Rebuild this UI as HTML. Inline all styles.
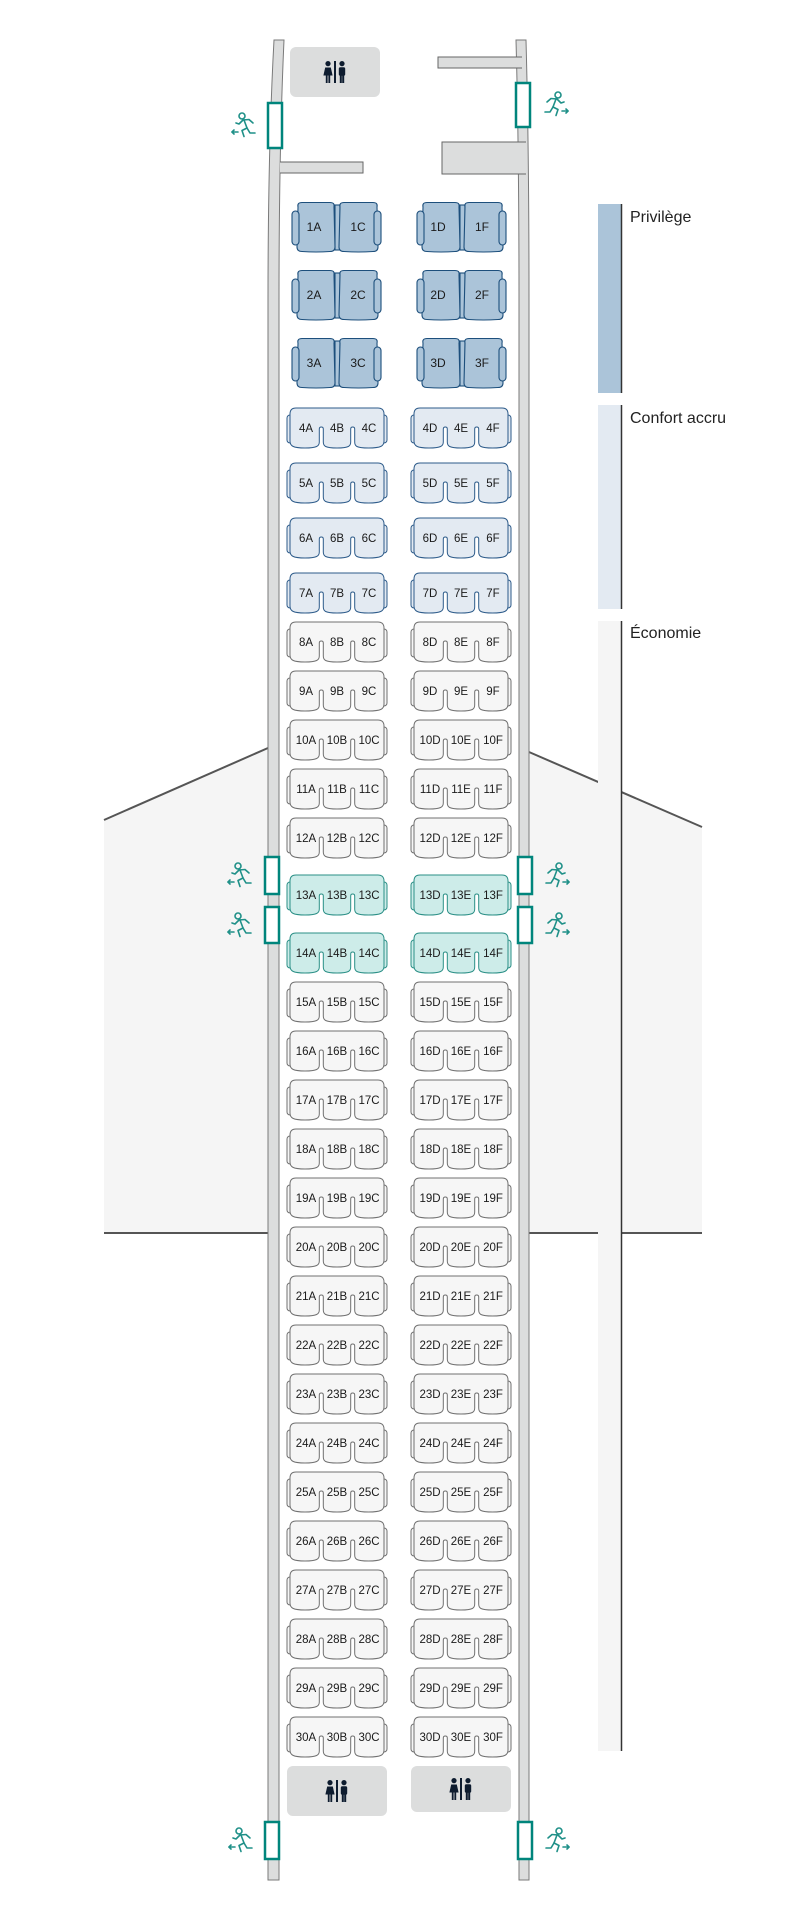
<!DOCTYPE html>
<html><head><meta charset="utf-8"><style>
html,body{margin:0;padding:0;background:#fff;}
svg{display:block;}
.t{font-family:"Liberation Sans",sans-serif;font-size:11.5px;fill:#1a1a1a;text-anchor:middle;}
.tb{font-family:"Liberation Sans",sans-serif;font-size:12px;fill:#1a1a1a;text-anchor:middle;}
.lg{font-family:"Liberation Sans",sans-serif;font-size:16px;fill:#222;}
</style></head><body>
<svg width="800" height="1920" viewBox="0 0 800 1920" xmlns="http://www.w3.org/2000/svg">
<defs>
<g id="b2">
<rect x="43" y="3" width="5" height="45"/>
<path d="M6,5 Q5,0.5 10,0.5 L38,0.5 Q43,0.5 42,5 L43,45 Q43,49.5 38,49.5 Q24,50.5 10,49.5 Q5,49.5 5,45 Z"/>
<path d="M48,5 Q47,0.5 52,0.5 L81,0.5 Q86,0.5 85,5 L86,45 Q86,49.5 81,49.5 Q66.5,50.5 52,49.5 Q47,49.5 47,45 Z"/>
<rect x="0" y="9" width="7" height="34" rx="3.5"/>
<rect x="82" y="9" width="7" height="34" rx="3.5"/>
</g>
<g id="e3">
<rect x="0" y="7" width="6" height="28" rx="3"/>
<rect x="94" y="7" width="6" height="28" rx="3"/>
<path d="M3,6 Q3,0 9,0 L91,0 Q97,0 97,6 L97,33 C97,38 94,40 81.5,40 C69,40 67.7,38 67.7,34 L67.7,21 Q67.7,19 65.7,19 Q63.7,19 63.7,21 L63.7,34 C63.7,38 62,40 50,40 C38,40 36.3,38 36.3,34 L36.3,21 Q36.3,19 34.3,19 Q32.3,19 32.3,21 L32.3,34 C32.3,38 30,40 18,40 C6,40 3,38 3,33 Z"/>
</g>
<g id="exR" fill="none" stroke="#1f9088" stroke-width="1.6" stroke-linecap="round" stroke-linejoin="round">
<circle cx="16" cy="4" r="3"/>
<polyline points="14,8 11,16"/>
<polyline points="5,11 9,7.5 15,8 19,12 22,11"/>
<polyline points="11,16 16,18.5 14,24.5"/>
<polyline points="11,16 8,21 3,21"/>
<line x1="20" y1="20" x2="26" y2="20"/>
<polyline points="24,18 26,20 24,22"/>
</g>
<g id="lav" fill="#0e1c2f">
<circle cx="5" cy="2.6" r="2.6"/>
<path d="M2.2,6.5 L7.8,6.5 L9.6,14.5 L0.4,14.5 Z"/>
<rect x="2.8" y="14" width="1.8" height="8"/>
<rect x="5.4" y="14" width="1.8" height="8"/>
<rect x="11" y="0" width="2" height="22"/>
<circle cx="19" cy="2.6" r="2.6"/>
<rect x="15.8" y="6.2" width="6.4" height="8.5" rx="1.6"/>
<rect x="16.8" y="13" width="2" height="9"/>
<rect x="19.2" y="13" width="2" height="9"/>
</g>
</defs>

<!-- wings -->
<polygon points="268,748 104,820 104,1233 268,1233" fill="#f5f5f5"/>
<line x1="268" y1="748" x2="104" y2="820" stroke="#555" stroke-width="2"/>
<line x1="104" y1="1233" x2="268" y2="1233" stroke="#555" stroke-width="2"/>
<polygon points="529,752 702,827 702,1233 529,1233" fill="#f5f5f5"/>
<line x1="529" y1="752" x2="702" y2="827" stroke="#555" stroke-width="2"/>
<line x1="529" y1="1233" x2="702" y2="1233" stroke="#555" stroke-width="2"/>

<!-- legend -->
<rect x="598" y="204" width="24" height="189" fill="#abc4d9"/>
<line x1="621.5" y1="204" x2="621.5" y2="393" stroke="#333" stroke-width="1.5"/>
<rect x="598" y="405" width="24" height="204" fill="#e3eaf2"/>
<line x1="621.5" y1="405" x2="621.5" y2="609" stroke="#333" stroke-width="1.5"/>
<rect x="598" y="621" width="24" height="1130" fill="#f5f5f5"/>
<line x1="621.5" y1="621" x2="621.5" y2="1751" stroke="#333" stroke-width="1.5"/>
<text class="lg" x="630" y="222">Privilège</text>
<text class="lg" x="630" y="423">Confort accru</text>
<text class="lg" x="630" y="638">Économie</text>

<!-- walls -->
<path d="M274,40 L284,40 Q279,150 279,300 L279,1880 L268,1880 L268,300 Q268,150 274,40 Z" fill="#dcdddd" stroke="#7a7a7a" stroke-width="1"/>
<path d="M516,40 L526,40 Q529,150 529,300 L529,1880 L519,1880 L519,300 Q519,150 516,40 Z" fill="#dcdddd" stroke="#7a7a7a" stroke-width="1"/>

<!-- front galley/lav -->
<rect x="290" y="47" width="90" height="50" rx="6" fill="#dcdddd"/>
<use href="#lav" x="323" y="61"/>
<path d="M280,162 L363,162 L363,173 L280,173" fill="#dcdddd" stroke="#666" stroke-width="1"/>
<path d="M522,57 L438,57 L438,68 L522,68" fill="#dcdddd" stroke="#666" stroke-width="1"/>
<path d="M526,142 L442,142 L442,174 L526,174" fill="#dcdddd" stroke="#666" stroke-width="1"/>

<!-- rear lavs -->
<rect x="287" y="1766" width="100" height="50" rx="6" fill="#dcdddd"/>
<use href="#lav" x="325" y="1780"/>
<rect x="411" y="1766" width="100" height="46" rx="6" fill="#dcdddd"/>
<use href="#lav" x="449" y="1778"/>

<!-- doors -->
<g fill="#fff" stroke="#00857c" stroke-width="2.5">
<rect x="268" y="103" width="14" height="45"/>
<rect x="516" y="83" width="14" height="44"/>
<rect x="265" y="857" width="14" height="37"/>
<rect x="265" y="907" width="14" height="36"/>
<rect x="518" y="857" width="14" height="37"/>
<rect x="518" y="907" width="14" height="36"/>
<rect x="265" y="1822" width="14" height="37"/>
<rect x="518" y="1822" width="14" height="37"/>
</g>

<!-- exit icons -->
<use href="#exR" transform="translate(258,112) scale(-1,1)"/>
<use href="#exR" x="542" y="91"/>
<use href="#exR" transform="translate(254,862) scale(-1,1)"/>
<use href="#exR" transform="translate(254,912) scale(-1,1)"/>
<use href="#exR" x="543" y="862"/>
<use href="#exR" x="543" y="912"/>
<use href="#exR" transform="translate(255,1827) scale(-1,1)"/>
<use href="#exR" x="543" y="1827"/>

<!-- business seats -->
<g fill="#abc4d9" stroke="#1d4f7c" stroke-width="1.1">
<use href="#b2" x="292" y="202"/><use href="#b2" x="417" y="202"/>
<use href="#b2" x="292" y="270"/><use href="#b2" x="417" y="270"/>
<use href="#b2" x="292" y="338"/><use href="#b2" x="417" y="338"/>
</g>
<text class="tb" y="231"><tspan x="314">1A</tspan><tspan x="358">1C</tspan><tspan x="438">1D</tspan><tspan x="482">1F</tspan></text>
<text class="tb" y="299"><tspan x="314">2A</tspan><tspan x="358">2C</tspan><tspan x="438">2D</tspan><tspan x="482">2F</tspan></text>
<text class="tb" y="367"><tspan x="314">3A</tspan><tspan x="358">3C</tspan><tspan x="438">3D</tspan><tspan x="482">3F</tspan></text>

<!-- premium -->
<g fill="#e3eaf2" stroke="#2d5b8a" stroke-width="1">
<use href="#e3" x="287" y="408"/><use href="#e3" x="411" y="408"/>
<use href="#e3" x="287" y="463"/><use href="#e3" x="411" y="463"/>
<use href="#e3" x="287" y="518"/><use href="#e3" x="411" y="518"/>
<use href="#e3" x="287" y="573"/><use href="#e3" x="411" y="573"/>
</g>

<!-- economy -->
<g fill="#f6f6f6" stroke="#707070" stroke-width="1">
<use href="#e3" x="287" y="622"/><use href="#e3" x="411" y="622"/>
<use href="#e3" x="287" y="671"/><use href="#e3" x="411" y="671"/>
<use href="#e3" x="287" y="720"/><use href="#e3" x="411" y="720"/>
<use href="#e3" x="287" y="769"/><use href="#e3" x="411" y="769"/>
<use href="#e3" x="287" y="818"/><use href="#e3" x="411" y="818"/>
<use href="#e3" x="287" y="982"/><use href="#e3" x="411" y="982"/>
<use href="#e3" x="287" y="1031"/><use href="#e3" x="411" y="1031"/>
<use href="#e3" x="287" y="1080"/><use href="#e3" x="411" y="1080"/>
<use href="#e3" x="287" y="1129"/><use href="#e3" x="411" y="1129"/>
<use href="#e3" x="287" y="1178"/><use href="#e3" x="411" y="1178"/>
<use href="#e3" x="287" y="1227"/><use href="#e3" x="411" y="1227"/>
<use href="#e3" x="287" y="1276"/><use href="#e3" x="411" y="1276"/>
<use href="#e3" x="287" y="1325"/><use href="#e3" x="411" y="1325"/>
<use href="#e3" x="287" y="1374"/><use href="#e3" x="411" y="1374"/>
<use href="#e3" x="287" y="1423"/><use href="#e3" x="411" y="1423"/>
<use href="#e3" x="287" y="1472"/><use href="#e3" x="411" y="1472"/>
<use href="#e3" x="287" y="1521"/><use href="#e3" x="411" y="1521"/>
<use href="#e3" x="287" y="1570"/><use href="#e3" x="411" y="1570"/>
<use href="#e3" x="287" y="1619"/><use href="#e3" x="411" y="1619"/>
<use href="#e3" x="287" y="1668"/><use href="#e3" x="411" y="1668"/>
<use href="#e3" x="287" y="1717"/><use href="#e3" x="411" y="1717"/>
</g>
<!-- exit rows -->
<g fill="#cdece9" stroke="#2a8f86" stroke-width="1">
<use href="#e3" x="287" y="875"/><use href="#e3" x="411" y="875"/>
<use href="#e3" x="287" y="933"/><use href="#e3" x="411" y="933"/>
</g>

<g class="t">
<text class="t" y="432"><tspan x="306">4A</tspan><tspan x="337">4B</tspan><tspan x="369">4C</tspan><tspan x="430">4D</tspan><tspan x="461">4E</tspan><tspan x="493">4F</tspan></text>
<text class="t" y="487"><tspan x="306">5A</tspan><tspan x="337">5B</tspan><tspan x="369">5C</tspan><tspan x="430">5D</tspan><tspan x="461">5E</tspan><tspan x="493">5F</tspan></text>
<text class="t" y="542"><tspan x="306">6A</tspan><tspan x="337">6B</tspan><tspan x="369">6C</tspan><tspan x="430">6D</tspan><tspan x="461">6E</tspan><tspan x="493">6F</tspan></text>
<text class="t" y="597"><tspan x="306">7A</tspan><tspan x="337">7B</tspan><tspan x="369">7C</tspan><tspan x="430">7D</tspan><tspan x="461">7E</tspan><tspan x="493">7F</tspan></text>
<text class="t" y="646"><tspan x="306">8A</tspan><tspan x="337">8B</tspan><tspan x="369">8C</tspan><tspan x="430">8D</tspan><tspan x="461">8E</tspan><tspan x="493">8F</tspan></text>
<text class="t" y="695"><tspan x="306">9A</tspan><tspan x="337">9B</tspan><tspan x="369">9C</tspan><tspan x="430">9D</tspan><tspan x="461">9E</tspan><tspan x="493">9F</tspan></text>
<text class="t" y="744"><tspan x="306">10A</tspan><tspan x="337">10B</tspan><tspan x="369">10C</tspan><tspan x="430">10D</tspan><tspan x="461">10E</tspan><tspan x="493">10F</tspan></text>
<text class="t" y="793"><tspan x="306">11A</tspan><tspan x="337">11B</tspan><tspan x="369">11C</tspan><tspan x="430">11D</tspan><tspan x="461">11E</tspan><tspan x="493">11F</tspan></text>
<text class="t" y="842"><tspan x="306">12A</tspan><tspan x="337">12B</tspan><tspan x="369">12C</tspan><tspan x="430">12D</tspan><tspan x="461">12E</tspan><tspan x="493">12F</tspan></text>
<text class="t" y="899"><tspan x="306">13A</tspan><tspan x="337">13B</tspan><tspan x="369">13C</tspan><tspan x="430">13D</tspan><tspan x="461">13E</tspan><tspan x="493">13F</tspan></text>
<text class="t" y="957"><tspan x="306">14A</tspan><tspan x="337">14B</tspan><tspan x="369">14C</tspan><tspan x="430">14D</tspan><tspan x="461">14E</tspan><tspan x="493">14F</tspan></text>
<text class="t" y="1006"><tspan x="306">15A</tspan><tspan x="337">15B</tspan><tspan x="369">15C</tspan><tspan x="430">15D</tspan><tspan x="461">15E</tspan><tspan x="493">15F</tspan></text>
<text class="t" y="1055"><tspan x="306">16A</tspan><tspan x="337">16B</tspan><tspan x="369">16C</tspan><tspan x="430">16D</tspan><tspan x="461">16E</tspan><tspan x="493">16F</tspan></text>
<text class="t" y="1104"><tspan x="306">17A</tspan><tspan x="337">17B</tspan><tspan x="369">17C</tspan><tspan x="430">17D</tspan><tspan x="461">17E</tspan><tspan x="493">17F</tspan></text>
<text class="t" y="1153"><tspan x="306">18A</tspan><tspan x="337">18B</tspan><tspan x="369">18C</tspan><tspan x="430">18D</tspan><tspan x="461">18E</tspan><tspan x="493">18F</tspan></text>
<text class="t" y="1202"><tspan x="306">19A</tspan><tspan x="337">19B</tspan><tspan x="369">19C</tspan><tspan x="430">19D</tspan><tspan x="461">19E</tspan><tspan x="493">19F</tspan></text>
<text class="t" y="1251"><tspan x="306">20A</tspan><tspan x="337">20B</tspan><tspan x="369">20C</tspan><tspan x="430">20D</tspan><tspan x="461">20E</tspan><tspan x="493">20F</tspan></text>
<text class="t" y="1300"><tspan x="306">21A</tspan><tspan x="337">21B</tspan><tspan x="369">21C</tspan><tspan x="430">21D</tspan><tspan x="461">21E</tspan><tspan x="493">21F</tspan></text>
<text class="t" y="1349"><tspan x="306">22A</tspan><tspan x="337">22B</tspan><tspan x="369">22C</tspan><tspan x="430">22D</tspan><tspan x="461">22E</tspan><tspan x="493">22F</tspan></text>
<text class="t" y="1398"><tspan x="306">23A</tspan><tspan x="337">23B</tspan><tspan x="369">23C</tspan><tspan x="430">23D</tspan><tspan x="461">23E</tspan><tspan x="493">23F</tspan></text>
<text class="t" y="1447"><tspan x="306">24A</tspan><tspan x="337">24B</tspan><tspan x="369">24C</tspan><tspan x="430">24D</tspan><tspan x="461">24E</tspan><tspan x="493">24F</tspan></text>
<text class="t" y="1496"><tspan x="306">25A</tspan><tspan x="337">25B</tspan><tspan x="369">25C</tspan><tspan x="430">25D</tspan><tspan x="461">25E</tspan><tspan x="493">25F</tspan></text>
<text class="t" y="1545"><tspan x="306">26A</tspan><tspan x="337">26B</tspan><tspan x="369">26C</tspan><tspan x="430">26D</tspan><tspan x="461">26E</tspan><tspan x="493">26F</tspan></text>
<text class="t" y="1594"><tspan x="306">27A</tspan><tspan x="337">27B</tspan><tspan x="369">27C</tspan><tspan x="430">27D</tspan><tspan x="461">27E</tspan><tspan x="493">27F</tspan></text>
<text class="t" y="1643"><tspan x="306">28A</tspan><tspan x="337">28B</tspan><tspan x="369">28C</tspan><tspan x="430">28D</tspan><tspan x="461">28E</tspan><tspan x="493">28F</tspan></text>
<text class="t" y="1692"><tspan x="306">29A</tspan><tspan x="337">29B</tspan><tspan x="369">29C</tspan><tspan x="430">29D</tspan><tspan x="461">29E</tspan><tspan x="493">29F</tspan></text>
<text class="t" y="1741"><tspan x="306">30A</tspan><tspan x="337">30B</tspan><tspan x="369">30C</tspan><tspan x="430">30D</tspan><tspan x="461">30E</tspan><tspan x="493">30F</tspan></text>
</g>
</svg>
</body></html>
